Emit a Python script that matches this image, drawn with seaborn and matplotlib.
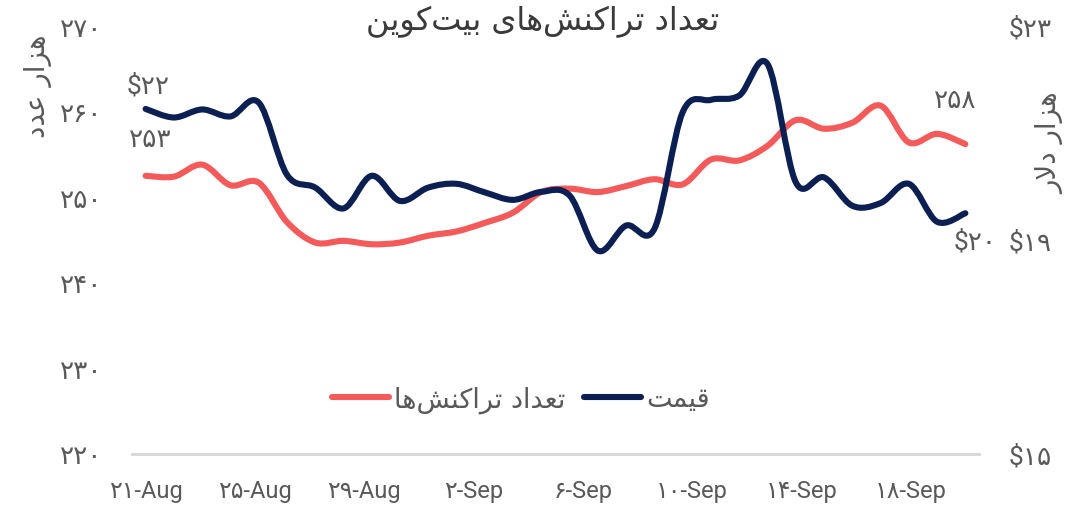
import numpy as np
import pandas as pd
import seaborn as sns
import matplotlib.pyplot as plt
from matplotlib.path import Path
from matplotlib.patches import PathPatch
from matplotlib.lines import Line2D

# daily values, 21-Aug .. 19-Sep
tx_count = [252.5, 252.4, 253.8, 251.4, 251.7, 247.1, 244.7, 244.9, 244.5, 244.7,
            245.5, 246.0, 247.0, 248.2, 250.6, 251.0, 250.6, 251.3, 252.1, 251.5,
            254.4, 254.3, 256.0, 259.0, 258.0, 258.7, 260.7, 256.4, 257.4, 256.2]
price = [21.45, 21.29, 21.44, 21.31, 21.57, 20.22, 19.98, 19.59, 20.20, 19.73,
         19.98, 20.05, 19.89, 19.75, 19.90, 19.83, 18.80, 19.27, 19.21, 21.39,
         21.62, 21.70, 22.29, 20.08, 20.17, 19.64, 19.69, 20.05, 19.34, 19.50]
dates = pd.date_range("2022-08-21", "2022-09-20", freq="D")
left_ticks = [220, 230, 240, 250, 260, 270]
right_ticks = [15, 19, 23]
tx_end_labels = ["253", "258"]
price_end_labels = ["$22", "$20"]

title = "تعداد تراکنش\u200cهای بیت\u200cکوین"
leg_tx = "تعداد تراکنش\u200cها"
leg_price = "قیمت"
ylab_left = "هزار عدد"
ylab_right = "هزار دلار"

RED = "#f55a5a"
NAVY = "#0c1f52"
GREY = "#595959"

fa = str.maketrans("0123456789", "۰۱۲۳۴۵۶۷۸۹")

# minimal arabic/persian shaping (matplotlib has no text shaping)
FORMS = {
    "ا": ("\uFE8D", "\uFE8E", None, None),
    "ب": ("\uFE8F", "\uFE90", "\uFE91", "\uFE92"),
    "ت": ("\uFE95", "\uFE96", "\uFE97", "\uFE98"),
    "د": ("\uFEA9", "\uFEAA", None, None),
    "ر": ("\uFEAD", "\uFEAE", None, None),
    "ز": ("\uFEAF", "\uFEB0", None, None),
    "ش": ("\uFEB5", "\uFEB6", "\uFEB7", "\uFEB8"),
    "ع": ("\uFEC9", "\uFECA", "\uFECB", "\uFECC"),
    "ق": ("\uFED5", "\uFED6", "\uFED7", "\uFED8"),
    "ل": ("\uFEDD", "\uFEDE", "\uFEDF", "\uFEE0"),
    "م": ("\uFEE1", "\uFEE2", "\uFEE3", "\uFEE4"),
    "ن": ("\uFEE5", "\uFEE6", "\uFEE7", "\uFEE8"),
    "ه": ("\uFEE9", "\uFEEA", "\uFEEB", "\uFEEC"),
    "و": ("\uFEED", "\uFEEE", None, None),
    "ک": ("\uFB8E", "\uFB8F", "\uFB90", "\uFB91"),
    "ی": ("\uFBFC", "\uFBFD", "\uFBFE", "\uFBFF"),
}


def shape(s):
    out = []
    i = 0
    while i < len(s):
        c = s[i]
        if c not in FORMS:
            if c != "\u200c":
                out.append(c)
            i += 1
            continue
        prev = s[i - 1] if i > 0 else ""
        join_prev = prev in FORMS and FORMS[prev][2] is not None
        if c == "ل" and i + 1 < len(s) and s[i + 1] == "ا":
            out.append("\uFEFC" if join_prev else "\uFEFB")
            i += 2
            continue
        nxt = s[i + 1] if i + 1 < len(s) else ""
        join_next = FORMS[c][2] is not None and nxt in FORMS
        iso, fin, ini, med = FORMS[c]
        if join_prev and join_next:
            out.append(med)
        elif join_prev:
            out.append(fin)
        elif join_next:
            out.append(ini)
        else:
            out.append(iso)
        i += 1
    return "".join(out[::-1])


def smooth_line(ax, x, y, color):
    # excel style smoothed line: catmull-rom segments as cubic beziers
    x = np.asarray(x, float)
    y = np.asarray(y, float)
    px = np.r_[x[0], x, x[-1]]
    py = np.r_[y[0], y, y[-1]]
    verts = [(x[0], y[0])]
    codes = [Path.MOVETO]
    for i in range(len(x) - 1):
        verts.append((px[i + 1] + (px[i + 2] - px[i]) / 6, py[i + 1] + (py[i + 2] - py[i]) / 6))
        verts.append((px[i + 2] - (px[i + 3] - px[i + 1]) / 6, py[i + 2] - (py[i + 3] - py[i + 1]) / 6))
        verts.append((x[i + 1], y[i + 1]))
        codes += [Path.CURVE4] * 3
    ax.add_patch(PathPatch(Path(verts, codes), fill=False, edgecolor=color, lw=4.4,
                           capstyle="round", joinstyle="round", zorder=3))


sns.set_theme(style="white")
plt.rcParams["font.family"] = ["Roboto", "DejaVu Sans"]

fig = plt.figure(figsize=(10.86, 5.10), dpi=100)
ax = fig.add_axes([0.1215, 0.108, 0.78, 0.839])
ax2 = ax.twinx()

# 30 daily values spread over the 31 date slots of the category axis
xpos = np.linspace(0, len(dates) - 1, len(tx_count))
smooth_line(ax, xpos, tx_count, RED)
smooth_line(ax2, xpos, price, NAVY)

ax.set_xlim(-0.5, len(dates) - 0.5)
ax.set_ylim(220, 270)
ax2.set_ylim(15, 23)

xt = np.arange(0, len(dates), 4)
ax.set_xticks(xt)
ax.set_xticklabels([f"{dates[k].day}-{dates[k]:%b}".translate(fa) for k in xt])
ax.set_yticks(left_ticks)
ax.set_yticklabels([str(v).translate(fa) for v in left_ticks])
ax2.set_yticks(right_ticks)
ax2.set_yticklabels([f"${v}".translate(fa) for v in right_ticks])

for a in (ax, ax2):
    a.tick_params(axis="y", length=0, pad=21, labelsize=19, labelcolor=GREY)
    for side in ("top", "left", "right"):
        a.spines[side].set_visible(False)
    a.spines["bottom"].set_color("#d9d9d9")
    a.spines["bottom"].set_linewidth(2)
    a.grid(False)
ax.tick_params(axis="x", length=0, pad=18, labelsize=17, labelcolor=GREY)

# end labels
lab = dict(textcoords="offset points", ha="center", va="center", fontsize=19, color=GREY)
ax.annotate(tx_end_labels[0].translate(fa), (xpos[0], tx_count[0]), xytext=(3.5, 26.5), **lab)
ax.annotate(tx_end_labels[1].translate(fa), (xpos[-1], tx_count[-1]), xytext=(-7, 32), **lab)
ax2.annotate(price_end_labels[0].translate(fa), (xpos[0], price[0]), xytext=(2, 17), **lab)
ax2.annotate(price_end_labels[1].translate(fa), (xpos[-1], price[-1]), xytext=(7, -20), **lab)

fig.text(0.5, 0.957, shape(title), ha="center", va="center", fontsize=23,
         color="#3a3a3a", family="DejaVu Sans")
fig.text(0.035, 1 - 86 / 510, shape(ylab_left), rotation=90, ha="center", va="center",
         fontsize=20, color=GREY, family="DejaVu Sans")
fig.text(1050 / 1086, 1 - 143 / 510, shape(ylab_right), rotation=90, ha="center", va="center",
         fontsize=20, color=GREY, family="DejaVu Sans")

handles = [Line2D([], [], color=RED, lw=4.4, solid_capstyle="round"),
           Line2D([], [], color=NAVY, lw=4.4, solid_capstyle="round")]
fig.legend(handles, [shape(leg_tx), shape(leg_price)], loc="center",
           bbox_to_anchor=(521 / 1086, 1 - 400 / 510), ncol=2, frameon=False,
           prop={"family": "DejaVu Sans", "size": 19.5}, labelcolor=GREY,
           handlelength=2.1, handletextpad=0.2, columnspacing=0.7)

fig.savefig("out.png", dpi=100)
